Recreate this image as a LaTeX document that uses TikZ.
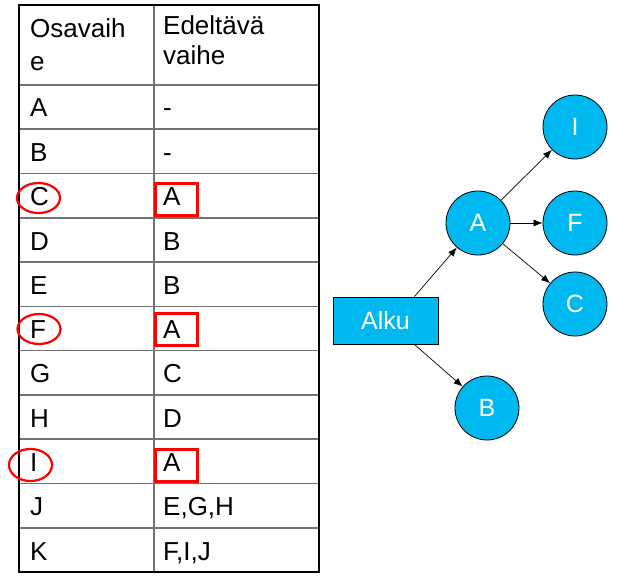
\documentclass[tikz,border=0pt]{standalone}
\usepackage{fontspec}
\setmainfont{Liberation Sans}
\usetikzlibrary{arrows.meta}
\definecolor{nodeblue}{RGB}{0,184,240}
\definecolor{gridgray}{RGB}{115,115,115}
\begin{document}
\begin{tikzpicture}[x=1pt,y=-1pt,font=\fontsize{26}{30}\selectfont]
      \tikzstyle{vertex}=[draw,circle,fill=nodeblue,text=white,minimum size=64pt,inner sep=0pt,line width=0.8pt,font=\fontsize{25}{30}\selectfont]
      \tikzstyle{start}=[draw,rectangle,fill=nodeblue,text=white,minimum width=105pt,minimum height=47pt,line width=0.8pt,font=\fontsize{25}{30}\selectfont]
      \tikzstyle{edge}=[draw,line width=0.7pt,-{Latex[length=9pt,width=7pt]}]
      \tikzstyle{cell}=[anchor=base west,inner sep=0pt]
      \tikzstyle{rule}=[draw,gridgray,line width=1.6pt]
      \useasboundingbox (0,0) rectangle (629,583);
      % table
      \path[rule] (19,85) -- (319,85);
      \path[rule] (19,129.3) -- (319,129.3);
      \path[rule] (19,173.5) -- (319,173.5);
      \path[rule] (19,217.8) -- (319,217.8);
      \path[rule] (19,262.1) -- (319,262.1);
      \path[rule] (19,306.4) -- (319,306.4);
      \path[rule] (19,350.6) -- (319,350.6);
      \path[rule] (19,394.9) -- (319,394.9);
      \path[rule] (19,439.2) -- (319,439.2);
      \path[rule] (19,483.5) -- (319,483.5);
      \path[rule] (19,527.7) -- (319,527.7);
      \path[rule] (154,5) -- (154,572);
      \path[draw,line width=2.6pt] (19,5) rectangle (319,572);
      \node[cell] (osa1) at (30,38) {Osavaih};
      \node[cell] (osa2) at (30,71) {e};
      \node[cell] (ede1) at (163,35) {Edeltävä};
      \node[cell] (ede2) at (163,65) {vaihe};
      \node[cell] (oA) at (30,117) {A};
      \node[cell] (eA) at (163,117) {-};
      \node[cell] (oB) at (30,161) {B};
      \node[cell] (eB) at (163,161) {-};
      \node[cell] (oC) at (30,205) {C};
      \node[cell] (eC) at (163,205) {A};
      \node[cell] (oD) at (30,250) {D};
      \node[cell] (eD) at (163,250) {B};
      \node[cell] (oE) at (30,294) {E};
      \node[cell] (eE) at (163,294) {B};
      \node[cell] (oF) at (30,338) {F};
      \node[cell] (eF) at (163,338) {A};
      \node[cell] (oG) at (30,382) {G};
      \node[cell] (eG) at (163,382) {C};
      \node[cell] (oH) at (30,427) {H};
      \node[cell] (eH) at (163,427) {D};
      \node[cell] (oI) at (30,471) {I};
      \node[cell] (eI) at (163,471) {A};
      \node[cell] (oJ) at (30,515) {J};
      \node[cell] (eJ) at (163,515) {E,G,H};
      \node[cell] (oK) at (30,560) {K};
      \node[cell] (eK) at (163,560) {F,I,J};
      % marks
      \path[draw,red,line width=2.2pt] (38.5,198) ellipse (21.5pt and 15pt);
      \path[draw,red,line width=2.2pt] (39,329) ellipse (21.5pt and 15pt);
      \path[draw,red,line width=2.2pt] (30.5,465) ellipse (21.5pt and 16pt);
      \path[draw,red,line width=3pt] (155,183) rectangle (197,215);
      \path[draw,red,line width=3pt] (155,313) rectangle (197,345);
      \path[draw,red,line width=3pt] (155,449) rectangle (197,481);
      % graph
      \node[start] (alku) at (385.5,320.5) {Alku};
      \node[vertex] (A) at (478,223) {A};
      \node[vertex] (I) at (575,127) {I};
      \node[vertex] (F) at (575,223) {F};
      \node[vertex] (C) at (575,304) {C};
      \node[vertex] (B) at (487,408) {B};
      \path[edge] ([xshift=-24pt]alku.north east) -- (A);
      \path[edge] ([xshift=-24pt]alku.south east) -- (B);
      \path[edge] (A) -- (I);
      \path[edge] (A) -- (F);
      \path[edge] (A) -- (C);
    \end{tikzpicture}
\end{document}
